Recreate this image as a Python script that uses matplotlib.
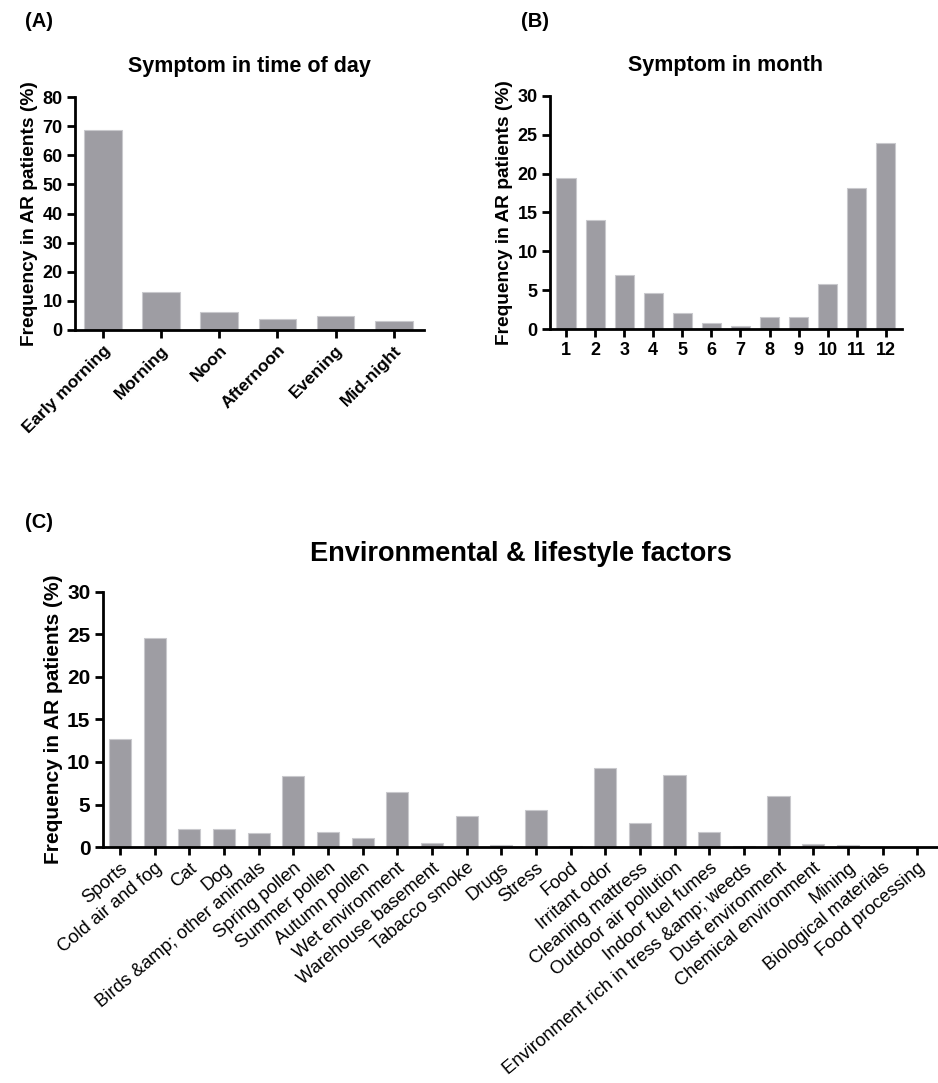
import numpy as np
import matplotlib
matplotlib.use('Agg')
import matplotlib.pyplot as plt

plt.rcParams['font.family'] = ['Liberation Sans', 'DejaVu Sans']

# time of day
day_labels = ['Early morning', 'Morning', 'Noon', 'Afternoon', 'Evening', 'Mid-night']
day_values = [68.8, 13.0, 6.1, 3.9, 4.9, 3.1]

# month
month_labels = [str(m) for m in range(1, 13)]
month_values = [19.5, 14.0, 6.9, 4.6, 2.1, 0.8, 0.4, 1.5, 1.6, 5.8, 18.1, 23.9]

# environmental & lifestyle factors
env_labels = ['Sports', 'Cold air and fog', 'Cat', 'Dog', 'Birds &amp; other animals',
              'Spring pollen', 'Summer pollen', 'Autumn pollen', 'Wet environment',
              'Warehouse basement', 'Tabacco smoke', 'Drugs', 'Stress', 'Food',
              'Irritant odor', 'Cleaning mattress', 'Outdoor air pollution',
              'Indoor fuel fumes', 'Environment rich in tress &amp; weeds',
              'Dust environment', 'Chemical environment', 'Mining',
              'Biological materials', 'Food processing']
env_values = [12.7, 24.6, 2.1, 2.1, 1.6, 8.3, 1.8, 1.05, 6.5, 0.45, 3.7, 0.25, 4.4, 0.15,
              9.3, 2.85, 8.45, 1.8, 0.15, 6.0, 0.3, 0.2, 0.05, 0.0]

BAR = '#9e9da3'
EDGE = '#c9c9cd'
YLAB = 'Frequency in AR patients (%)'


def style_axes(ax):
    for s in ['top', 'right']:
        ax.spines[s].set_visible(False)
    for s in ['left', 'bottom']:
        ax.spines[s].set_linewidth(2.0)
    ax.tick_params(direction='out', length=6, width=2.0, pad=3)


fig = plt.figure(figsize=(9.38, 10.83), dpi=100)

# (A)
ax1 = fig.add_axes([0.080, 0.6953, 0.372, 0.2151])
x = np.arange(len(day_values))
ax1.bar(x, day_values, width=0.65, color=BAR, edgecolor=EDGE, linewidth=0.8)
ax1.set_xlim(-0.48, 5.52)
ax1.set_ylim(0, 80)
ax1.set_yticks(np.arange(0, 81, 10))
ax1.set_xticks(x)
ax1.set_xticklabels(day_labels, rotation=45, ha='right', rotation_mode='anchor',
                    fontsize=12.5, fontweight='bold')
for t in ax1.get_yticklabels():
    t.set_fontsize(13)
    t.set_fontweight('bold')
ax1.set_ylabel(YLAB, fontsize=13.8, fontweight='bold', labelpad=3)
ax1.set_title('Symptom in time of day', fontsize=15.5, fontweight='bold', pad=18)
style_axes(ax1)

# (B)
ax2 = fig.add_axes([0.5864, 0.6962, 0.375, 0.2152])
xm = np.arange(1, 13)
ax2.bar(xm, month_values, width=0.66, color=BAR, edgecolor=EDGE, linewidth=0.8)
ax2.set_xlim(0.45, 12.55)
ax2.set_ylim(0, 30)
ax2.set_yticks(np.arange(0, 31, 5))
ax2.set_xticks(xm)
ax2.set_xticklabels(month_labels, fontsize=13, fontweight='bold')
for t in ax2.get_yticklabels():
    t.set_fontsize(13)
    t.set_fontweight('bold')
ax2.set_ylabel(YLAB, fontsize=13.8, fontweight='bold', labelpad=3)
ax2.set_title('Symptom in month', fontsize=15.5, fontweight='bold', pad=18)
style_axes(ax2)

# (C)
ax3 = fig.add_axes([0.1098, 0.2179, 0.8902, 0.2355])
xe = np.arange(len(env_values))
ax3.bar(xe, env_values, width=0.64, color=BAR, edgecolor=EDGE, linewidth=0.8)
ax3.set_xlim(-0.49, 23.6)
ax3.set_ylim(0, 30)
ax3.set_yticks(np.arange(0, 31, 5))
ax3.set_xticks(xe)
ax3.set_xticklabels(env_labels, rotation=40, ha='right', rotation_mode='anchor',
                    fontsize=13.2)
for t in ax3.get_yticklabels():
    t.set_fontsize(15)
    t.set_fontweight('bold')
ax3.set_ylabel(YLAB, fontsize=15, fontweight='bold', labelpad=3)
ax3.set_title('Environmental & lifestyle factors', fontsize=19.5, fontweight='bold', pad=22)
style_axes(ax3)

fig.text(0.027, 0.980, '(A)', fontsize=14.5, fontweight='bold', va='center')
fig.text(0.555, 0.980, '(B)', fontsize=14.5, fontweight='bold', va='center')
fig.text(0.027, 0.518, '(C)', fontsize=14.5, fontweight='bold', va='center')

fig.savefig('out.png', dpi=100)
